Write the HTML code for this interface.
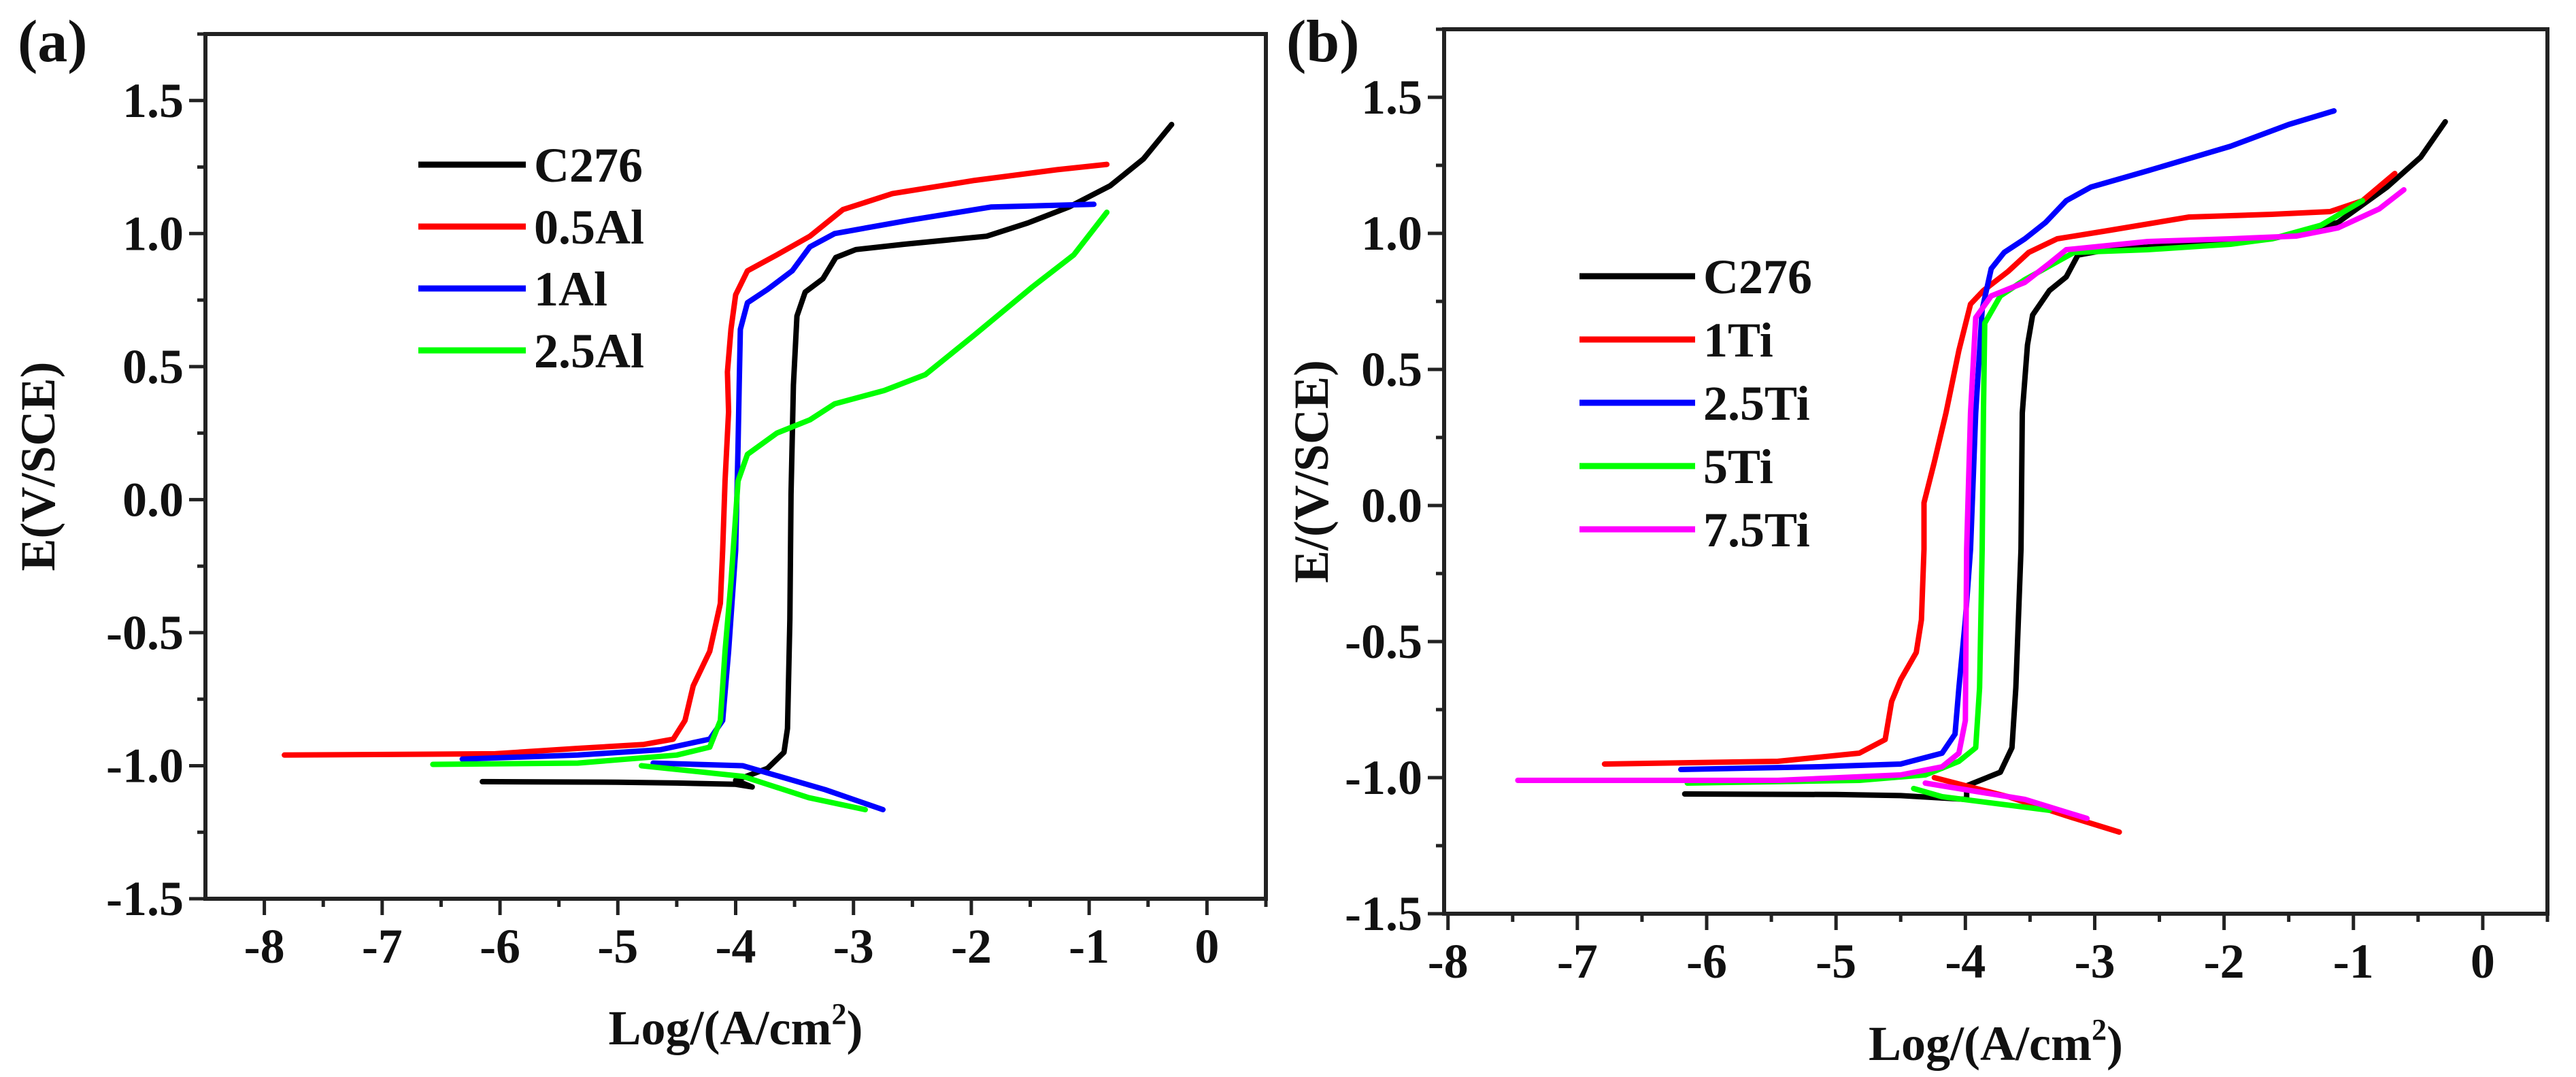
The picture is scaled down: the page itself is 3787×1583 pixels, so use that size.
<!DOCTYPE html>
<html><head><meta charset="utf-8"><style>
html,body{margin:0;padding:0;background:#fff;}
svg{display:block;font-family:"Liberation Serif",serif;font-weight:bold;}
</style></head><body>
<svg id="fig" width="3787" height="1583" viewBox="0 0 3787 1583" xmlns="http://www.w3.org/2000/svg"></svg>
<script>
// ---- Panel (a) data ----
const aNames = ["C276","0.5Al","1Al","2.5Al"];
const aColors = ["#000000","#ff0000","#0000ff","#00ff00"];
const aC276X = [-6.15,-5,-4.5,-4.0,-3.86,-4.0,-3.73,-3.59,-3.56,-3.54,-3.53,-3.51,-3.48,-3.41,-3.26,-3.15,-2.98,-2.57,-1.87,-1.52,-1.17,-0.82,-0.54,-0.30];
const aC276Y = [-1.06,-1.062,-1.065,-1.07,-1.08,-1.055,-1.01,-0.95,-0.86,-0.45,0.02,0.43,0.69,0.78,0.83,0.91,0.94,0.96,0.99,1.04,1.10,1.18,1.28,1.41];
const aAl05X = [-7.83,-6.04,-5.34,-4.78,-4.53,-4.43,-4.36,-4.22,-4.13,-4.11,-4.09,-4.06,-4.07,-4.04,-4.0,-3.9,-3.65,-3.37,-3.09,-2.67,-1.97,-1.27,-0.85];
const aAl05Y = [-0.96,-0.955,-0.935,-0.92,-0.90,-0.83,-0.70,-0.57,-0.39,-0.19,0.07,0.33,0.48,0.64,0.77,0.86,0.92,0.99,1.09,1.15,1.20,1.24,1.26];
const aAl1X = [-6.32,-5.34,-4.64,-4.22,-4.11,-4.06,-4.0,-3.98,-3.97,-3.96,-3.9,-3.73,-3.52,-3.37,-3.16,-2.53,-1.83,-0.96];
const aAl1Y = [-0.975,-0.96,-0.94,-0.90,-0.83,-0.57,-0.19,0.2,0.43,0.64,0.74,0.79,0.86,0.95,1.0,1.05,1.10,1.11];
const aAl1CX = [-4.7,-3.94,-3.24,-2.75];
const aAl1CY = [-0.99,-1.0,-1.09,-1.165];
const aAl25X = [-6.57,-5.34,-4.5,-4.22,-4.13,-4.09,-4.04,-4.0,-3.98,-3.9,-3.65,-3.37,-3.16,-2.74,-2.39,-1.97,-1.48,-1.13,-0.85];
const aAl25Y = [-0.995,-0.99,-0.96,-0.93,-0.83,-0.57,-0.31,-0.06,0.07,0.17,0.25,0.30,0.36,0.41,0.47,0.62,0.80,0.92,1.08];
const aAl25CX = [-4.8,-3.94,-3.38,-2.9];
const aAl25CY = [-1.0,-1.04,-1.12,-1.165];

// ---- Panel (b) data ----
const bNames = ["C276","1Ti","2.5Ti","5Ti","7.5Ti"];
const bColors = ["#000000","#ff0000","#0000ff","#00ff00","#ff00ff"];
const bC276X = [-6.17,-5,-4.5,-3.99,-3.99,-3.73,-3.64,-3.61,-3.57,-3.56,-3.52,-3.48,-3.35,-3.22,-3.13,-2.9,-2.27,-1.63,-1.12,-0.74,-0.48,-0.29];
const bC276Y = [-1.06,-1.062,-1.066,-1.08,-1.03,-0.98,-0.89,-0.67,-0.16,0.34,0.59,0.70,0.79,0.84,0.92,0.94,0.96,0.98,1.04,1.17,1.28,1.41];
const bTi1X = [-6.79,-5.45,-4.82,-4.62,-4.57,-4.5,-4.38,-4.34,-4.32,-4.32,-4.24,-4.15,-4.05,-3.96,-3.86,-3.67,-3.51,-3.29,-2.9,-2.27,-1.63,-1.18,-0.93,-0.68];
const bTi1Y = [-0.95,-0.94,-0.91,-0.86,-0.72,-0.64,-0.54,-0.42,-0.16,0.01,0.16,0.34,0.57,0.74,0.79,0.86,0.93,0.98,1.01,1.06,1.07,1.08,1.12,1.22];
const bTi1CX = [-4.24,-3.67,-3.22,-2.81];
const bTi1CY = [-1.0,-1.07,-1.14,-1.2];
const bTi25X = [-6.2,-5.13,-4.5,-4.18,-4.08,-4.05,-4.0,-3.96,-3.92,-3.87,-3.8,-3.7,-3.54,-3.38,-3.22,-3.03,-2.59,-1.95,-1.5,-1.15];
const bTi25Y = [-0.97,-0.96,-0.95,-0.91,-0.84,-0.67,-0.42,-0.16,0.34,0.72,0.87,0.93,0.98,1.04,1.12,1.17,1.23,1.32,1.40,1.45];
const bTi5X = [-6.15,-4.82,-4.31,-4.05,-3.92,-3.89,-3.87,-3.86,-3.85,-3.73,-3.54,-3.35,-3.16,-2.59,-1.95,-1.63,-1.25,-0.93];
const bTi5Y = [-1.02,-1.01,-0.99,-0.94,-0.89,-0.67,-0.16,0.34,0.67,0.77,0.83,0.88,0.93,0.94,0.96,0.98,1.03,1.12];
const bTi5CX = [-4.4,-4.18,-3.35];
const bTi5CY = [-1.04,-1.07,-1.12];
const bTi75X = [-7.46,-5.45,-4.5,-4.18,-4.05,-4.0,-3.99,-3.96,-3.92,-3.8,-3.54,-3.35,-3.22,-2.59,-1.95,-1.44,-1.12,-0.8,-0.61];
const bTi75Y = [-1.01,-1.01,-0.99,-0.96,-0.91,-0.79,-0.16,0.34,0.69,0.77,0.82,0.89,0.94,0.97,0.98,0.99,1.02,1.09,1.16];
const bTi75CX = [-4.31,-3.54,-3.06];
const bTi75CY = [-1.02,-1.08,-1.15];

const xTicks = [-8,-7,-6,-5,-4,-3,-2,-1,0];
const yTicks = [1.5,1.0,0.5,0.0,-0.5,-1.0,-1.5];

const NS = "http://www.w3.org/2000/svg";
const svg = document.getElementById("fig");
function mk(tag, attrs, parent){
  const e = document.createElementNS(NS, tag);
  for (const k in attrs) e.setAttribute(k, attrs[k]);
  (parent||svg).appendChild(e);
  return e;
}
function panel(P){
  const g = mk("g", {});
  
  
  const sx = v => P.L + (v - P.x0) / (P.x1 - P.x0) * (P.R - P.L);
  const sy = v => P.B - (v - P.y0) / (P.y1 - P.y0) * (P.B - P.T);
  for (let v = -8; v <= 0.5001; v += 0.5) {
    const major = Math.abs(v - Math.round(v)) < 1e-6;
    if (sx(v) < P.L - 2) continue;
    const t = mk("line", {x1:sx(v), x2:sx(v), y1:P.B, y2:P.B + (major?24:12), stroke:"#222", "stroke-width":5}, g);
    
    
  }
  for (let v = -1.5; v <= 1.75; v += 0.25) {
    const major = Math.abs(v*2 - Math.round(v*2)) < 1e-6;
    const t = mk("line", {x1:P.L - (major?24:12), x2:P.L, y1:sy(v), y2:sy(v), stroke:"#222", "stroke-width":5}, g);
    
    
  }
  xTicks.forEach(v => {
    const t = mk("text", {x:sx(v), y:P.B + 94, "font-size":72, "text-anchor":"middle", fill:"#111"}, g);
    t.textContent = String(v);
    
    
  });
  yTicks.forEach(v => {
    const t = mk("text", {x:P.L - 32, y:sy(v) + 24, "font-size":72, "text-anchor":"end", fill:"#111"}, g);
    t.textContent = v.toFixed(1);
    
    
  });
  P.series.forEach(s => {
    s.parts.forEach(pt => {
      const d = pt[0].map((x,i) => (i?"L":"M") + sx(x).toFixed(1) + "," + sy(pt[1][i]).toFixed(1)).join(" ");
      const p = mk("path", {d:d, fill:"none", stroke:s.color, "stroke-width":8, "stroke-linejoin":"round", "stroke-linecap":"round"}, g);
      
      
    });
  });
  const f = mk("rect", {x:P.L, y:P.T, width:P.R-P.L, height:P.B-P.T, fill:"none", stroke:"#222", "stroke-width":6}, g);
  
  
  P.series.forEach((s,i) => {
    const y = P.legY + i*P.legDY;
    const l = mk("line", {x1:P.legX, x2:P.legX + P.legW, y1:y, y2:y, stroke:s.color, "stroke-width":9}, g);
    
    
    const t = mk("text", {x:P.legX + P.legW + 12, y:y + 25, "font-size":72, fill:"#111"}, g);
    t.textContent = s.name;
    
    
  });
  const xt = mk("text", {x:(P.L+P.R)/2, y:P.xTitleY, "font-size":72, "text-anchor":"middle", fill:"#111"}, g);
  xt.innerHTML = 'Log/(A/cm<tspan font-size="44" dy="-30">2</tspan><tspan dy="30">)</tspan>';
  
  
  const yc = (P.T+P.B)/2;
  const yt = mk("text", {x:0, y:0, "font-size":72, "text-anchor":"middle", fill:"#111", transform:`translate(${P.yTitleX},${yc}) rotate(-90)`}, g);
  yt.textContent = P.yTitle;
  
  
  const pl = mk("text", {x:P.labX, y:90, "font-size":88, fill:"#111"}, g);
  pl.textContent = P.label;
  
  
}
panel({id:"panel-a", L:302, R:1861, T:50, B:1321, x0:-8.5, x1:0.5, y0:-1.5, y1:1.75,
  legX:615, legW:158, legY:242, legDY:91, xTitleY:1535, yTitleX:80, yTitle:"E(V/SCE)", label:"(a)", labX:26,
  series:[
    {name:aNames[0], color:aColors[0], parts:[[aC276X,aC276Y]]},
    {name:aNames[1], color:aColors[1], parts:[[aAl05X,aAl05Y]]},
    {name:aNames[2], color:aColors[2], parts:[[aAl1X,aAl1Y],[aAl1CX,aAl1CY]]},
    {name:aNames[3], color:aColors[3], parts:[[aAl25X,aAl25Y],[aAl25CX,aAl25CY]]}
  ]});
panel({id:"panel-b", L:2123, R:3745, T:43, B:1343, x0:-8.03, x1:0.5, y0:-1.5, y1:1.75,
  legX:2322, legW:170, legY:406, legDY:93, xTitleY:1558, yTitleX:1952, yTitle:"E/(V/SCE)", label:"(b)", labX:1891,
  series:[
    {name:bNames[0], color:bColors[0], parts:[[bC276X,bC276Y]]},
    {name:bNames[1], color:bColors[1], parts:[[bTi1X,bTi1Y],[bTi1CX,bTi1CY]]},
    {name:bNames[2], color:bColors[2], parts:[[bTi25X,bTi25Y]]},
    {name:bNames[3], color:bColors[3], parts:[[bTi5X,bTi5Y],[bTi5CX,bTi5CY]]},
    {name:bNames[4], color:bColors[4], parts:[[bTi75X,bTi75Y],[bTi75CX,bTi75CY]]}
  ]});
</script>
</body></html>
